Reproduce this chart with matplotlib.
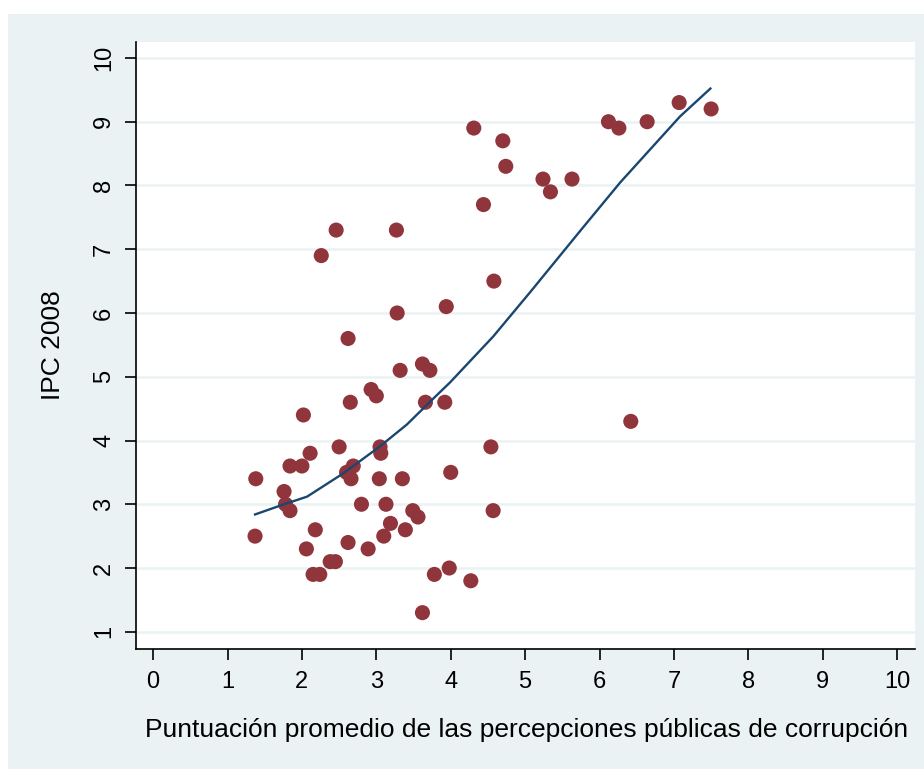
import matplotlib
matplotlib.use("Agg")
import matplotlib.pyplot as plt
from matplotlib.patches import Rectangle

plt.rcParams['font.family'] = ['Liberation Sans', 'DejaVu Sans']

# Scatter data: perception score vs IPC 2008
percepcion = [1.38, 1.37, 1.76, 1.78, 1.84, 1.84, 2.00, 2.02, 2.11, 2.06,
              2.18, 2.15, 2.24, 2.26, 2.46, 2.38, 2.45, 2.50, 2.62, 2.65,
              2.62, 2.60, 2.66, 2.69, 2.80, 2.89, 2.93, 3.00, 3.05, 3.06,
              3.04, 3.13, 3.10, 3.19, 3.27, 3.28, 3.32, 3.35, 3.39, 3.49,
              3.56, 3.62, 3.72, 3.66, 3.62, 3.78, 3.92, 3.94, 3.98, 4.00,
              4.27, 4.31, 4.44, 4.54, 4.57, 4.58, 4.70, 4.74, 5.24, 5.34,
              5.63, 6.12, 6.26, 6.42, 6.64, 7.07, 7.50]
ipc2008 = [3.4, 2.5, 3.2, 3.0, 2.9, 3.6, 3.6, 4.4, 3.8, 2.3,
           2.6, 1.9, 1.9, 6.9, 7.3, 2.1, 2.1, 3.9, 5.6, 4.6,
           2.4, 3.5, 3.4, 3.6, 3.0, 2.3, 4.8, 4.7, 3.9, 3.8,
           3.4, 3.0, 2.5, 2.7, 7.3, 6.0, 5.1, 3.4, 2.6, 2.9,
           2.8, 5.2, 5.1, 4.6, 1.3, 1.9, 4.6, 6.1, 2.0, 3.5,
           1.8, 8.9, 7.7, 3.9, 2.9, 6.5, 8.7, 8.3, 8.1, 7.9,
           8.1, 9.0, 8.9, 4.3, 9.0, 9.3, 9.2]

# Smoothed fit line
fit_x = [1.37, 1.76, 2.07, 2.55, 3.04, 3.41, 3.75, 3.99, 4.57, 5.07, 5.77, 6.28, 7.08, 7.49]
fit_y = [2.84, 3.00, 3.12, 3.48, 3.90, 4.25, 4.64, 4.91, 5.63, 6.33, 7.33, 8.05, 9.08, 9.52]

xticks = list(range(0, 11))
yticks = list(range(1, 11))
xlabel = "Puntuación promedio de las percepciones públicas de corrupción"
ylabel = "IPC 2008"

W, H = 924, 769
fig = plt.figure(figsize=(W / 100, H / 100), dpi=100)
fig.patch.set_facecolor('white')
bg = '#EAF2F3'
fig.patches.append(Rectangle((8 / W, 0), 1 - 8 / W, 1 - 14 / H, transform=fig.transFigure,
                             facecolor=bg, edgecolor='none', zorder=-10))

ax = fig.add_axes([136 / W, 1 - 649 / H, (915 - 136) / W, (649 - 42) / H])
ax.set_facecolor('white')

ax.scatter(percepcion, ipc2008, s=118, color='#90353B', edgecolors='none', zorder=3)
ax.plot(fit_x, fit_y, color='#1A476F', lw=1.7, zorder=4)

ax.set_xlim(-0.23, 10.24)
ax.set_ylim(0.73, 10.25)
ax.set_xticks(xticks)
ax.set_yticks(yticks)
ax.tick_params(axis='both', direction='out', length=8, width=1.2, labelsize=17, color='black')
ax.tick_params(axis='x', pad=8)
ax.tick_params(axis='y', pad=7)
for lab in ax.get_yticklabels():
    lab.set_rotation(90)
    lab.set_va('center')

ax.grid(axis='y', color=bg, lw=1.8)
ax.set_axisbelow(True)
for s in ['top', 'right']:
    ax.spines[s].set_visible(False)
for s in ['left', 'bottom']:
    ax.spines[s].set_linewidth(1.2)

ax.set_xlabel(xlabel, fontsize=19)
ax.set_ylabel(ylabel, fontsize=19)
ax.xaxis.set_label_coords((527 - 136) / (915 - 136), -(730 - 649) / (649 - 42))
ax.xaxis.label.set_va('center')
ax.yaxis.set_label_coords(-(136 - 53) / (915 - 136), (649 - 345) / (649 - 42))
ax.yaxis.label.set_va('center')

fig.savefig('out.png', dpi=100, facecolor=fig.get_facecolor())
